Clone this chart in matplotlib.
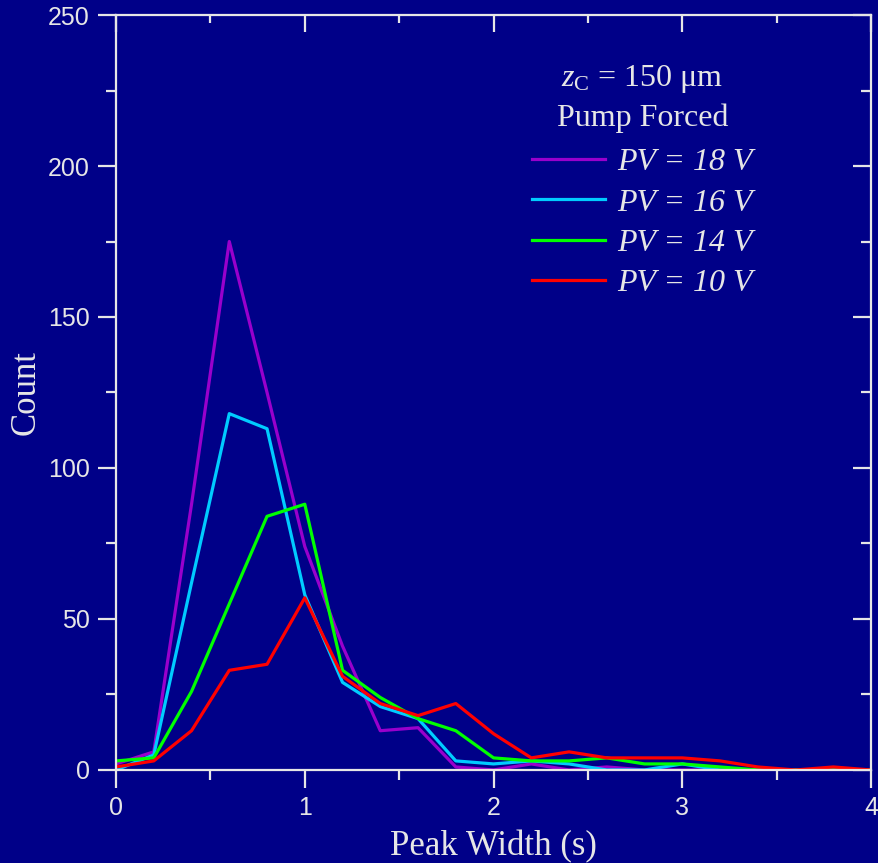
import numpy as np
import matplotlib
matplotlib.use("Agg")
import matplotlib.pyplot as plt
from matplotlib.ticker import MultipleLocator

# Гистограммы ширины пиков при разном напряжении насоса
width = [0.0, 0.2, 0.4, 0.6, 0.8, 1.0, 1.2, 1.4, 1.6, 1.8, 2.0,
         2.2, 2.4, 2.6, 2.8, 3.0, 3.2, 3.4, 3.6, 3.8, 4.0]
pv18 = [2, 6, 88, 175, 125, 74, 41, 13, 14, 1, 0, 2, 0, 1, 0, 0, 0, 0, 0, 0, 0]
pv16 = [0, 5, 62, 118, 113, 58, 29, 21, 17, 3, 2, 3, 2, 0, 0, 2, 0, 0, 0, 0, 0]
pv14 = [3, 4, 26, 55, 84, 88, 33, 24, 17, 13, 4, 3, 3, 4, 2, 2, 1, 0, 0, 0, 0]
pv10 = [1, 3, 13, 33, 35, 57, 31, 22, 18, 22, 12, 4, 6, 4, 4, 4, 3, 1, 0, 1, 0]

series = [
    (pv18, '#9900CC', 'PV = 18 V'),
    (pv16, '#00CCFF', 'PV = 16 V'),
    (pv14, '#00FF00', 'PV = 14 V'),
    (pv10, '#FF0000', 'PV = 10 V'),
]

bg = '#000088'
fg = '#E6E6E6'

plt.rcParams['mathtext.fontset'] = 'custom'
plt.rcParams['mathtext.rm'] = 'Liberation Serif'
plt.rcParams['mathtext.it'] = 'Liberation Serif:italic'

fig = plt.figure(figsize=(8.79, 8.63), dpi=100, facecolor=bg)
ax = fig.add_axes([0.132, 0.1078, 0.859, 0.8748], facecolor=bg)

for vals, col, lab in series:
    ax.plot(width, vals, color=col, lw=2.3, label=lab)

ax.set_xlim(0, 4)
ax.set_ylim(0, 250)
ax.xaxis.set_major_locator(MultipleLocator(1))
ax.xaxis.set_minor_locator(MultipleLocator(0.5))
ax.yaxis.set_major_locator(MultipleLocator(50))
ax.yaxis.set_minor_locator(MultipleLocator(25))

for sp in ax.spines.values():
    sp.set_color(fg)
    sp.set_linewidth(1.6)

# снизу и слева риски наружу, сверху и справа внутрь
ax.tick_params(which='both', color=fg, width=1.6, labelcolor=fg,
               labelsize=18, labelfontfamily='Liberation Sans')
ax.tick_params(which='major', length=13)
ax.tick_params(which='minor', length=7)
ax.tick_params(axis='x', which='both', direction='out', top=False, pad=6)
ax.tick_params(axis='y', which='both', direction='out', right=False, pad=6)

sx = ax.secondary_xaxis('top')
sx.xaxis.set_major_locator(MultipleLocator(1))
sx.xaxis.set_minor_locator(MultipleLocator(0.5))
sx.tick_params(which='both', direction='in', labeltop=False, color=fg, width=1.6)
sx.tick_params(which='major', length=12)
sx.tick_params(which='minor', length=6)
sx.spines['top'].set_visible(False)

sy = ax.secondary_yaxis('right')
sy.yaxis.set_major_locator(MultipleLocator(50))
sy.yaxis.set_minor_locator(MultipleLocator(25))
sy.tick_params(which='both', direction='in', labelright=False, color=fg, width=1.6)
sy.tick_params(which='major', length=13)
sy.tick_params(which='minor', length=7)
sy.spines['right'].set_visible(False)

ax.set_xlabel('Peak Width (s)', family='Liberation Serif', fontsize=25, color=fg, labelpad=7)
ax.set_ylabel('Count', family='Liberation Serif', fontsize=25, color=fg, labelpad=4)

# заголовок легенды
ax.text(0.697, 0.915, '$z_\\mathrm{C}$ = 150 μm', transform=ax.transAxes,
        ha='center', va='center', family='Liberation Serif', fontsize=23, color=fg)
ax.text(0.697, 0.8635, 'Pump Forced', transform=ax.transAxes,
        ha='center', va='center', family='Liberation Serif', fontsize=23, color=fg)

leg = ax.legend(loc='upper center', bbox_to_anchor=(0.697, 0.862), frameon=False,
                prop={'family': 'Liberation Serif', 'style': 'italic', 'size': 23},
                handlelength=2.26, handletextpad=0.38, labelspacing=0.34)
for t in leg.get_texts():
    t.set_color(fg)

fig.savefig('out.png', dpi=100, facecolor=bg)
